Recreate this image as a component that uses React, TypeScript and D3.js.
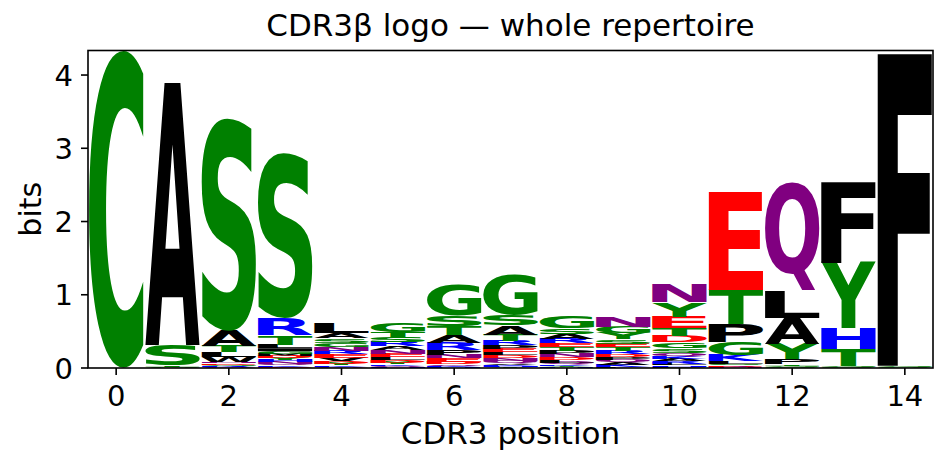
import React, { useMemo } from 'react';
import * as d3 from 'd3';

// bits per letter, one array per CDR3 position
const pos00: [string, number][] = [['C', 4.33]];
const pos01: [string, number][] = [['A', 3.58], ['S', 0.28], ['T', 0.02], ['G', 0.015]];
const pos02: [string, number][] = [['S', 2.9], ['A', 0.21], ['T', 0.08], ['L', 0.07], ['W', 0.06], ['G', 0.02], ['D', 0.02], ['N', 0.02], ['R', 0.015], ['Q', 0.01]];
const pos03: [string, number][] = [['S', 2.26], ['R', 0.23], ['T', 0.13], ['L', 0.05], ['I', 0.04], ['G', 0.035], ['D', 0.03], ['M', 0.03], ['Q', 0.025], ['N', 0.025], ['H', 0.025], ['Y', 0.025], ['K', 0.02], ['E', 0.015]];
const pos04: [string, number][] = [['L', 0.14], ['A', 0.075], ['S', 0.06], ['N', 0.055], ['G', 0.055], ['R', 0.05], ['V', 0.045], ['E', 0.045], ['D', 0.035], ['Y', 0.025], ['K', 0.02], ['Q', 0.015]];
const pos05: [string, number][] = [['G', 0.12], ['T', 0.07], ['S', 0.065], ['R', 0.06], ['A', 0.055], ['N', 0.05], ['E', 0.045], ['L', 0.04], ['D', 0.035], ['Y', 0.025], ['K', 0.02], ['H', 0.015], ['Q', 0.015]];
const pos06: [string, number][] = [['G', 0.42], ['S', 0.15], ['T', 0.12], ['A', 0.11], ['R', 0.1], ['P', 0.06], ['N', 0.05], ['E', 0.045], ['D', 0.035], ['Q', 0.025], ['K', 0.015], ['H', 0.01]];
const pos07: [string, number][] = [['G', 0.55], ['S', 0.14], ['A', 0.13], ['T', 0.08], ['R', 0.06], ['E', 0.05], ['P', 0.05], ['N', 0.04], ['D', 0.04], ['L', 0.04], ['Q', 0.03], ['K', 0.02], ['V', 0.02], ['H', 0.015], ['Y', 0.01]];
const pos08: [string, number][] = [['G', 0.16], ['S', 0.08], ['A', 0.07], ['R', 0.06], ['T', 0.05], ['E', 0.05], ['N', 0.045], ['P', 0.045], ['D', 0.04], ['Q', 0.03], ['L', 0.03], ['K', 0.02], ['Y', 0.015], ['H', 0.01]];
const pos09: [string, number][] = [['N', 0.14], ['G', 0.09], ['Y', 0.08], ['S', 0.06], ['T', 0.05], ['E', 0.05], ['R', 0.045], ['P', 0.04], ['D', 0.04], ['Q', 0.035], ['A', 0.03], ['K', 0.025], ['L', 0.015]];
const pos10: [string, number][] = [['N', 0.24], ['Y', 0.2], ['E', 0.16], ['T', 0.1], ['D', 0.09], ['G', 0.08], ['S', 0.06], ['Q', 0.05], ['K', 0.04], ['R', 0.03], ['A', 0.03], ['L', 0.025], ['H', 0.02], ['P', 0.015]];
const pos11: [string, number][] = [['E', 1.33], ['T', 0.47], ['P', 0.24], ['G', 0.18], ['K', 0.08], ['L', 0.04], ['S', 0.02], ['D', 0.015], ['N', 0.01], ['R', 0.01]];
const pos12: [string, number][] = [['Q', 1.48], ['L', 0.38], ['A', 0.35], ['Y', 0.21], ['P', 0.07], ['G', 0.02], ['T', 0.02], ['S', 0.01]];
const pos13: [string, number][] = [['F', 1.11], ['Y', 0.9], ['H', 0.28], ['T', 0.23], ['G', 0.02], ['S', 0.01]];
const pos14: [string, number][] = [['F', 4.26], ['G', 0.02], ['S', 0.01]];

const columns = [pos00, pos01, pos02, pos03, pos04, pos05, pos06, pos07, pos08, pos09, pos10, pos11, pos12, pos13, pos14];

const xTicks = [0, 2, 4, 6, 8, 10, 12, 14];
const yTicks = [0, 1, 2, 3, 4];

// logomaker "chemistry" colour scheme
const chemistry: Record<string, string> = {
  G: 'green', S: 'green', T: 'green', Y: 'green', C: 'green',
  N: 'purple', Q: 'purple',
  K: 'blue', R: 'blue', H: 'blue',
  D: 'red', E: 'red',
  A: 'black', V: 'black', L: 'black', I: 'black', M: 'black', P: 'black', F: 'black', W: 'black',
};

const W = 947;
const H = 466;
const left = 88, right = 933, top = 50.5, bottom = 368;
const FONT = 'DejaVu Sans, sans-serif';
const GLYPH_SIZE = 400;

type Box = { x0: number; x1: number; y0: number; y1: number };

// ink bounds of each glyph, relative to the text origin (baseline, left)
function measureGlyphs(letters: string[]): Record<string, Box> {
  const out: Record<string, Box> = {};
  const size = 700, ox = 150, oy = 520;
  const canvas = document.createElement('canvas');
  canvas.width = size;
  canvas.height = size;
  const ctx = canvas.getContext('2d');
  letters.forEach(ch => {
    let box: Box = { x0: 0, x1: GLYPH_SIZE * 0.7, y0: -GLYPH_SIZE * 0.73, y1: 0 };
    if (ctx) {
      ctx.clearRect(0, 0, size, size);
      ctx.font = `bold ${GLYPH_SIZE}px "DejaVu Sans"`;
      ctx.textBaseline = 'alphabetic';
      ctx.fillStyle = '#000';
      ctx.fillText(ch, ox, oy);
      const data = ctx.getImageData(0, 0, size, size).data;
      let x0 = size, x1 = -1, y0 = size, y1 = -1;
      for (let y = 0; y < size; y++) {
        for (let x = 0; x < size; x++) {
          if (data[(y * size + x) * 4 + 3] > 100) {
            if (x < x0) x0 = x;
            if (x > x1) x1 = x;
            if (y < y0) y0 = y;
            if (y > y1) y1 = y;
          }
        }
      }
      if (x1 > x0 && y1 > y0) box = { x0: x0 - ox, x1: x1 + 1 - ox, y0: y0 - oy, y1: y1 + 1 - oy };
    }
    out[ch] = box;
  });
  return out;
}

const App = () => {
  const x = d3.scaleLinear().domain([-0.5, 14.5]).range([left, right]);
  const y = d3.scaleLinear().domain([0, 4.335]).range([bottom, top]);
  const glyphWidth = 0.96;

  const glyphs = useMemo(() => {
    const letters = Array.from(new Set(columns.flat().map(d => d[0])));
    return measureGlyphs(letters);
  }, []);

  const marks: { ch: string; x0: number; x1: number; y0: number; y1: number }[] = [];
  columns.forEach((col, i) => {
    const sorted = [...col].sort((a, b) => a[1] - b[1]);
    let base = 0;
    sorted.forEach(([ch, v]) => {
      marks.push({ ch, x0: x(i - glyphWidth / 2), x1: x(i + glyphWidth / 2), y0: y(base + v), y1: y(base) });
      base += v;
    });
  });

  return (
    <svg width={W} height={H} style={{ display: 'block', position: 'absolute', left: 0, top: 0 }}>
      <rect width={W} height={H} fill="white" />
      <defs>
        <clipPath id="plot">
          <rect x={left} y={top} width={right - left} height={bottom - top} />
        </clipPath>
      </defs>
      <g clipPath="url(#plot)">
        {marks.map((m, k) => {
          const g = glyphs[m.ch];
          const sx = (m.x1 - m.x0) / (g.x1 - g.x0);
          const sy = (m.y1 - m.y0) / (g.y1 - g.y0);
          const tx = m.x0 - g.x0 * sx;
          const ty = m.y0 - g.y0 * sy;
          return (
            <text key={k} x={0} y={0} fontSize={GLYPH_SIZE} fontFamily="DejaVu Sans" fontWeight="bold"
              fill={chemistry[m.ch]} transform={`translate(${tx},${ty}) scale(${sx},${sy})`}>
              {m.ch}
            </text>
          );
        })}
      </g>
      <rect x={left} y={top} width={right - left} height={bottom - top} fill="none" stroke="#000" strokeWidth={1.6} />
      {xTicks.map(t => (
        <g key={t} transform={`translate(${x(t)},0)`}>
          <line y1={bottom} y2={bottom + 7} stroke="#000" strokeWidth={1.6} />
          <text y={406} textAnchor="middle" fontFamily={FONT} fontSize={29}>{t}</text>
        </g>
      ))}
      {yTicks.map(t => (
        <g key={t} transform={`translate(0,${y(t)})`}>
          <line x1={left} x2={left - 7} stroke="#000" strokeWidth={1.6} />
          <text x={73} y={10.5} textAnchor="end" fontFamily={FONT} fontSize={29}>{t}</text>
        </g>
      ))}
      <text x={(left + right) / 2} y={444} textAnchor="middle" fontFamily={FONT} fontSize={31}>CDR3 position</text>
      <text transform={`translate(41,${(top + bottom) / 2}) rotate(-90)`} textAnchor="middle" fontFamily={FONT} fontSize={30}>bits</text>
      <text x={(left + right) / 2} y={36} textAnchor="middle" fontFamily={FONT} fontSize={31}>CDR3β logo — whole repertoire</text>
    </svg>
  );
};

export default App;
